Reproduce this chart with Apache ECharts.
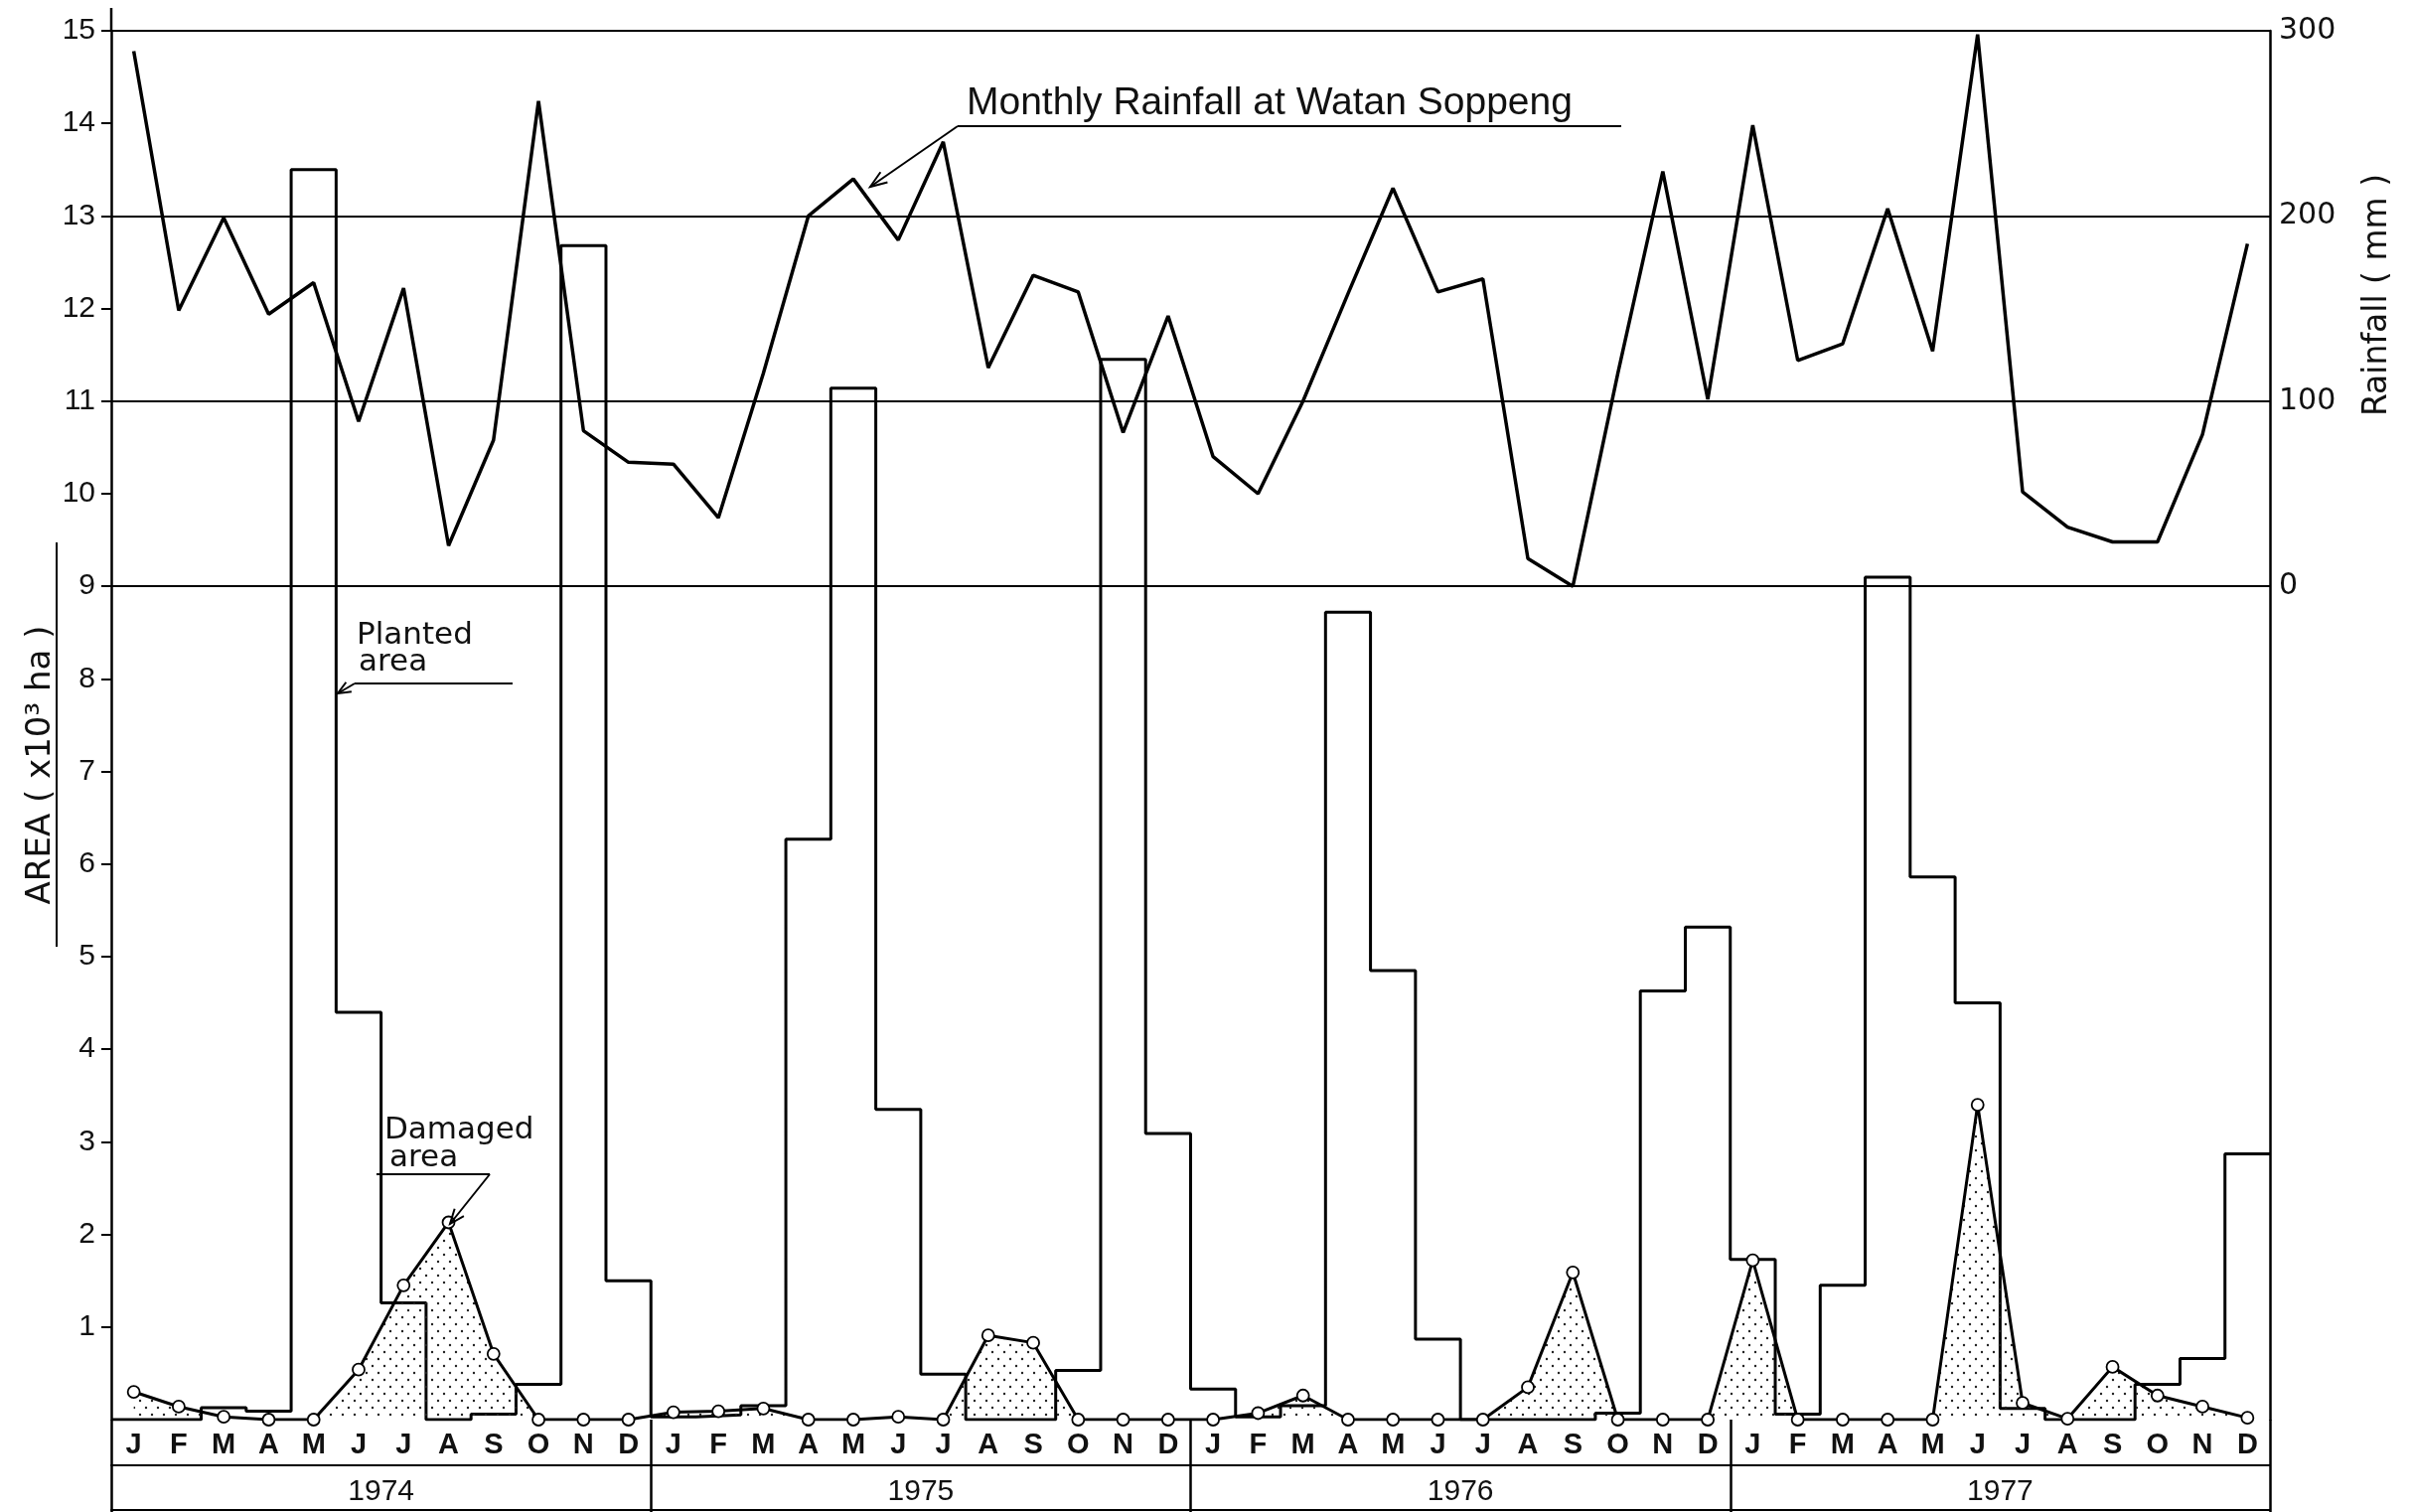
<!DOCTYPE html>
<html><head><meta charset="utf-8">
<script src="https://cdn.jsdelivr.net/npm/echarts@6/dist/echarts.min.js"></script>
<style>html,body{margin:0;padding:0;background:#fff}#c{width:2428px;height:1522px}</style>
</head><body><div id="c"></div>
<script>
// ---- data ----
const monthLabels = ['J','F','M','A','M','J','J','A','S','O','N','D'];
const years = ['1974','1975','1976','1977'];
// monthly rainfall at Watan Soppeng (mm), Jan 1974 .. Dec 1977
const rainfall = [
  289,149,199,147,164, 89,161, 22, 79,262, 84, 67,
   66, 37,115,200,220,187,240,118,168,159, 83,146,
   70, 50,100,158,215,159,166, 15,  0,115,224,101,
  249,122,131,204,127,298, 51, 32, 24, 24, 82,185
];
// planted area (x10^3 ha)
const planted = [
  0,0,0.13,0.09,13.5,4.4,1.26,0,0.06,0.38,12.68,1.5,
  0.03,0.05,0.15,6.27,11.14,3.35,0.49,0,0,0.53,11.45,3.09,
  0.33,0.03,0.15,8.72,4.85,0.87,0,0,0,0.07,4.63,5.32,
  1.73,0.06,1.45,9.1,5.86,4.5,0.12,0,0,0.38,0.66,2.87
];
// damaged area (x10^3 ha)
const damaged = [
  0.30,0.14,0.03,0,0,0.54,1.45,2.13,0.71,0,0,0,
  0.08,0.09,0.12,0,0,0.03,0,0.91,0.83,0,0,0,
  0,0.07,0.26,0,0,0,0,0.35,1.59,0,0,0,
  1.72,0,0,0,0,3.40,0.18,0.01,0.57,0.26,0.14,0.02
];
const areaTicks = [1,2,3,4,5,6,7,8,9,10,11,12,13,14,15];
const rainTicks = [0,100,200,300];

// ---- derived ----
const months48 = years.flatMap(() => monthLabels);
const plantedSteps = [];
planted.forEach((v,i) => { plantedSteps.push([i, v]); plantedSteps.push([i+1, v]); });
const damagedPts = damaged.map((v,i) => [i+0.5, v]);
const rainPts = rainfall.map((v,i) => [i+0.5, v]);

// dot pattern
const pat = document.createElement('canvas');
pat.width = 12; pat.height = 14;
const pc = pat.getContext('2d');
pc.fillStyle = '#222';
pc.beginPath(); pc.arc(3,3,1.2,0,Math.PI*2); pc.fill();
pc.beginPath(); pc.arc(9,10,1.2,0,Math.PI*2); pc.fill();

function arrowHead(tip, from, len, ang){
  const dx = from[0]-tip[0], dy = from[1]-tip[1];
  const L = Math.hypot(dx,dy), ux = dx/L, uy = dy/L;
  const r = a => [tip[0]+len*(ux*Math.cos(a)-uy*Math.sin(a)), tip[1]+len*(ux*Math.sin(a)+uy*Math.cos(a))];
  return {type:'polyline', shape:{points:[r(ang), tip, r(-ang)]}, style:{stroke:'#000', lineWidth:2, fill:null}, z:50};
}
function seg(a,b,w){ return {type:'line', shape:{x1:a[0],y1:a[1],x2:b[0],y2:b[1]}, style:{stroke:'#000', lineWidth:w||2}, z:50}; }
function txt(t,x,y,font,opt){ return Object.assign({type:'text', x:x, y:y, z:50, style:Object.assign({text:t, font:font, fill:'#111', textAlign:'left', textVerticalAlign:'middle'}, (opt&&opt.style)||{})}, (opt&&opt.el)||{}); }

const BLACK = '#000';
const chart = echarts.init(document.getElementById('c'), null, {renderer:'canvas'});
chart.setOption({
  backgroundColor:'#fff',
  animation:false,
  grid:{left:112, right:143, top:31, bottom:93, outerBoundsMode:'none'},
  xAxis:[
    {type:'value', min:0, max:48, show:false},
    {type:'category', data:months48, position:'bottom', offset:0,
     axisLine:{show:true, lineStyle:{color:BLACK, width:2}}, axisTick:{show:false},
     axisLabel:{interval:0, margin:11, fontSize:29, fontWeight:'bold', color:'#111', fontFamily:'Liberation Sans'}},
    {type:'category', data:years, position:'bottom', offset:46,
     axisLine:{show:true, lineStyle:{color:BLACK, width:2}}, axisTick:{show:false},
     axisLabel:{margin:12, fontSize:30, color:'#111', fontFamily:'Liberation Sans'}},
    {type:'category', data:years, position:'bottom', offset:0,
     axisLine:{show:false}, axisTick:{show:true, length:93, lineStyle:{color:BLACK, width:2.5}},
     axisLabel:{show:false}},
    {type:'category', data:years, position:'bottom', offset:91,
     axisLine:{show:true, lineStyle:{color:BLACK, width:2}}, axisTick:{show:false}, axisLabel:{show:false}}
  ],
  yAxis:[
    {type:'value', min:0, max:15, interval:1, position:'left',
     axisLine:{show:true, lineStyle:{color:BLACK, width:2.5}},
     axisTick:{show:true, length:10, customValues:areaTicks, lineStyle:{color:BLACK, width:2}},
     splitLine:{show:false},
     axisLabel:{customValues:areaTicks, margin:16, fontSize:30, color:'#111', fontFamily:'Liberation Sans'}},
    {type:'value', min:-450, max:300, interval:50, position:'right',
     axisLine:{show:true, lineStyle:{color:BLACK, width:2.5}},
     axisTick:{show:false}, splitLine:{show:false},
     axisLabel:{customValues:rainTicks, margin:9, fontSize:30, color:'#111', fontFamily:'DejaVu Sans'}}
  ],
  series:[
    {name:'Planted area', type:'line', xAxisIndex:0, yAxisIndex:0, data:plantedSteps,
     symbol:'none', lineStyle:{color:BLACK, width:3}, z:4},
    {name:'Damaged area', type:'line', xAxisIndex:0, yAxisIndex:0, data:damagedPts,
     symbol:'circle', symbolSize:12, showAllSymbol:true,
     itemStyle:{color:'#fff', borderColor:BLACK, borderWidth:1.8},
     lineStyle:{color:BLACK, width:3},
     areaStyle:{color:{image:pat, repeat:'repeat'}, opacity:1}, z:5},
    {name:'Monthly Rainfall', type:'line', xAxisIndex:0, yAxisIndex:1, data:rainPts,
     symbol:'none', lineStyle:{color:BLACK, width:3.5}, z:3,
     markLine:{silent:true, symbol:'none', label:{show:false}, animation:false,
       lineStyle:{type:'solid', color:BLACK, width:2},
       data: rainTicks.map(v => ({yAxis:v}))}}
  ],
  graphic:[
    // Rainfall annotation
    txt('Monthly Rainfall at Watan Soppeng', 973, 104, '39px "Liberation Sans", sans-serif'),
    seg([964,127],[1632,127],2),
    seg([964,127],[876,188],2),
    arrowHead([876,188],[964,127],18,0.35),
    // Planted annotation
    txt('Planted', 359, 640, '31px "DejaVu Sans", sans-serif'),
    txt('area', 361, 667, '31px "DejaVu Sans", sans-serif'),
    seg([516,688],[357,688],2),
    seg([357,688],[340,698],2),
    arrowHead([340,698],[357,688],14,0.4),
    // Damaged annotation
    txt('Damaged', 387, 1138, '31px "DejaVu Sans", sans-serif'),
    txt('area', 392, 1166, '31px "DejaVu Sans", sans-serif'),
    seg([379,1182],[493,1182],2),
    seg([493,1182],[453,1232],2),
    arrowHead([453,1232],[493,1182],16,0.38),
    // axis names
    txt('AREA ( x10³ ha )', 41, 770, '34px "DejaVu Sans", sans-serif', {el:{rotation:Math.PI/2}, style:{textAlign:'center'}}),
    seg([57,546],[57,953],2),
    txt('Rainfall ( mm )', 2393, 297, '33px "DejaVu Sans", sans-serif', {el:{rotation:Math.PI/2}, style:{textAlign:'center'}}),
    seg([112,8],[112,31],2.5)
  ]
});
</script></body></html>
